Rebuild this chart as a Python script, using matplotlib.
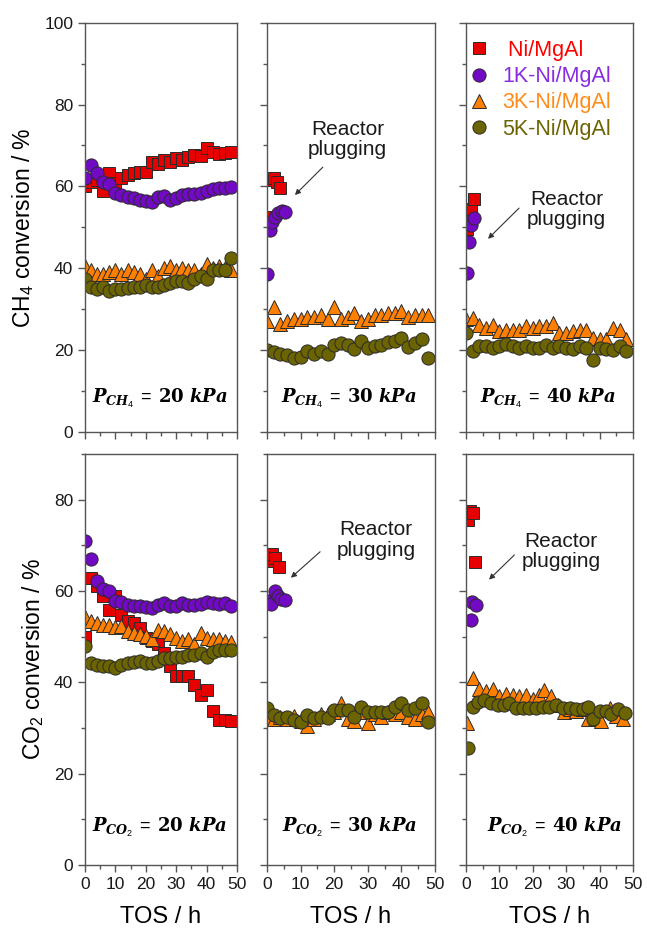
import matplotlib
matplotlib.use('Agg')
import matplotlib.pyplot as plt
from matplotlib.ticker import MultipleLocator

plt.rcParams['font.family'] = ['Liberation Sans', 'DejaVu Sans']
plt.rcParams['mathtext.fontset'] = 'custom'
plt.rcParams['mathtext.rm'] = 'Liberation Sans'
plt.rcParams['mathtext.it'] = 'DejaVu Serif:italic:bold'
plt.rcParams['mathtext.bf'] = 'DejaVu Serif:bold'

# time on stream (h), common sampling of the long runs
tos = [0, 2, 4, 6, 8, 10, 12, 14, 16, 18, 20, 22, 24,
       26, 28, 30, 32, 34, 36, 38, 40, 42, 44, 46, 48]

catalysts = [' Ni/MgAl', '1K-Ni/MgAl', '3K-Ni/MgAl', '5K-Ni/MgAl']
colors = ['#e60000', '#7209c4', '#ff8000', '#6b6400']
label_colors = ['#ff0000', '#8a2be2', '#ff8c1a', '#6b6400']
markers = ['s', 'o', '^', 'o']

# ---- CH4 conversion (%) ----
# P_CH4 = 20 kPa
ch4_20_ni = [60, 61, 61.5, 59, 63.2, 60.8, 62, 62.8, 63.2, 63.6, 63.6, 66, 65.5,
             66.5, 66, 67, 66.5, 67.3, 67.7, 67.4, 69.3, 68.5, 68, 68.1, 68.3]
ch4_20_k1 = [62, 65.2, 63.2, 61, 60.6, 58.5, 57.9, 57.5, 57.1, 56.7, 56.5, 56.3, 57.3,
             57.7, 56.8, 57.2, 58, 58.1, 58.2, 58.5, 58.9, 59.3, 59.5, 59.7, 59.8]
ch4_20_k3 = [40.5, 39.5, 38.5, 38.5, 39, 39.5, 38.5, 39.5, 39, 38.5, 37.5, 39.5, 38,
             40, 40.5, 39.5, 40, 39.5, 39.5, 38.5, 41, 40, 40.5, 40, 39.5]
ch4_20_k5 = [37.5, 35.5, 35, 35.5, 34.5, 35, 35, 35.2, 35.5, 35.5, 36, 35.5, 35.5,
             36, 36.5, 37, 37, 36.5, 37.5, 38, 37.5, 39.5, 39.5, 39.5, 42.5]

# P_CH4 = 30 kPa
ch4_30_ni_t = [0, 1, 2, 3, 4]
ch4_30_ni = [52.5, 61.5, 62, 61, 59.5]
ch4_30_k1_t = [0, 0.8, 1.5, 2.3, 3.3, 4.5, 5.5]
ch4_30_k1 = [38.6, 49.3, 51.3, 52.5, 53.5, 54, 53.7]
ch4_30_k3 = [27, 30.5, 26.5, 27, 27.5, 27.5, 28, 28, 28.5, 27.5, 30.5, 27.5, 28,
             29, 27, 27.5, 28.5, 28.5, 29, 29, 29.5, 28, 28.5, 28.5, 28.5]
ch4_30_k5 = [20, 19.5, 19, 18.7, 18, 18.2, 19.7, 19, 19.7, 19, 21.3, 21.8, 21.3,
             20.2, 22.3, 20.5, 21, 21.3, 22, 22.2, 23, 20.8, 21.7, 22.7, 18]

# P_CH4 = 40 kPa
ch4_40_ni_t = [0.3, 1, 1.6, 2.4]
ch4_40_ni = [49.5, 52.5, 54.5, 57]
ch4_40_k1_t = [0.2, 0.8, 1.6, 2.4]
ch4_40_k1 = [38.8, 46.5, 50.5, 52.3]
ch4_40_k3 = [27.5, 27.8, 26.2, 25.4, 26.2, 24.6, 25, 25, 25, 25.8, 25.4, 25.8, 26,
             26.6, 24.2, 24.2, 24.6, 25, 25, 23, 22.6, 22.6, 25.4, 25, 22.6]
ch4_40_k5 = [24.2, 19.7, 20.9, 20.9, 20.5, 20.9, 21.5, 20.9, 20.5, 20.9, 20.5, 20.5, 21.3,
             20.5, 20.9, 20.5, 20.3, 20.9, 20.5, 17.7, 20.5, 20.3, 20.1, 20.9, 19.7]

# ---- CO2 conversion (%) ----
# P_CO2 = 20 kPa
co2_20_ni = [50, 62.8, 61, 58.8, 55.9, 59, 54.8, 53.5, 53, 51.9, 49.7, 49, 48.3,
             46.5, 43.5, 41.3, 41.3, 41.3, 39.5, 37.3, 38.4, 33.7, 31.8, 31.8, 31.5]
co2_20_k1 = [71, 67, 62.3, 60.5, 60, 57.8, 57.5, 57, 56.8, 56.8, 56.5, 56.3, 57,
             57.3, 56.7, 56.7, 57.3, 57, 57, 57.2, 57.5, 57.3, 57.2, 57.3, 56.8]
co2_20_k3 = [54.4, 53.5, 53, 52.6, 52.5, 52.2, 52.3, 51.2, 50.8, 50.5, 50.1, 49.5, 51.5,
             51.2, 50.5, 49.7, 49, 49.4, 48.5, 50.8, 49.7, 49.4, 49.4, 49, 48.8]
co2_20_k5 = [47.9, 44.2, 43.9, 43.5, 43.5, 43.2, 43.9, 44.2, 44.4, 44.6, 44.2, 44.2, 44.6,
             45.3, 45.3, 45.6, 45.6, 46, 46, 46.4, 45.5, 46.7, 47, 47, 47]

# P_CO2 = 30 kPa
co2_30_ni_t = [0.5, 1.5, 2.5, 3.5]
co2_30_ni = [66.5, 68, 67.2, 65.3]
co2_30_k1_t = [0.3, 1.2, 2.5, 3.3, 4.3, 5.3]
co2_30_k1 = [57.8, 57.2, 60, 59, 58.2, 58]
co2_30_k3 = [32.5, 32, 32.5, 32, 32.6, 31.5, 30.5, 32, 33, 33, 33.5, 35.5, 32,
             31.5, 33.5, 31, 33, 32.5, 33.5, 33, 33.5, 32.5, 32, 33, 33.6]
co2_30_k5 = [34.3, 32.9, 32.1, 32.5, 31.7, 31.4, 32.9, 32.1, 32.5, 32.1, 33.9, 33.9, 33.9,
             32.5, 34.7, 33.6, 33.6, 33.6, 33.6, 34.7, 35.4, 33.9, 34.3, 35.4, 31.4]

# P_CO2 = 40 kPa
co2_40_ni_t = [0.5, 1.2, 2.2, 2.8]
co2_40_ni = [75.5, 77.5, 77, 66.3]
co2_40_k1_t = [1.4, 1.9, 2.9]
co2_40_k1 = [53.7, 57.7, 57]
co2_40_k3_t = [0.3, 2, 4, 6, 8, 10, 12, 14, 16, 18, 20, 22, 23.5,
               25.5, 27.5, 29.5, 31, 33, 35, 36.5, 38.5, 40.5, 43, 45, 47]
co2_40_k3 = [31, 40.9, 38.5, 38, 38.5, 37, 37.5, 37.3, 37, 37.2, 36.3, 37.3, 38.3,
             37, 35.1, 33.5, 34.1, 33.7, 34.1, 31.9, 31.9, 31.5, 34.4, 32.6, 31.9]
co2_40_k5_t = [0.5, 2, 3.5, 5.5, 7.5, 9.5, 11.5, 13, 15, 17, 19, 21, 23,
               25, 27, 29, 31, 33, 35, 36.5, 38, 40, 42, 43.5, 45.5, 47.5]
co2_40_k5 = [25.6, 34.7, 35.8, 36.2, 35.4, 35.1, 35.1, 35.4, 34.4, 34.4, 34.4, 34.4, 34.7,
             34.7, 35.1, 34.4, 34.4, 34.1, 34.1, 34.7, 31.9, 33.7, 33.7, 33, 34.1, 33.3]

panels = [
    [[(tos, ch4_20_ni), (tos, ch4_20_k1), (tos, ch4_20_k3), (tos, ch4_20_k5)],
     [(ch4_30_ni_t, ch4_30_ni), (ch4_30_k1_t, ch4_30_k1), (tos, ch4_30_k3), (tos, ch4_30_k5)],
     [(ch4_40_ni_t, ch4_40_ni), (ch4_40_k1_t, ch4_40_k1), (tos, ch4_40_k3), (tos, ch4_40_k5)]],
    [[(tos, co2_20_ni), (tos, co2_20_k1), (tos, co2_20_k3), (tos, co2_20_k5)],
     [(co2_30_ni_t, co2_30_ni), (co2_30_k1_t, co2_30_k1), (tos, co2_30_k3), (tos, co2_30_k5)],
     [(co2_40_ni_t, co2_40_ni), (co2_40_k1_t, co2_40_k1), (co2_40_k3_t, co2_40_k3),
      (co2_40_k5_t, co2_40_k5)]],
]

pressures = ['20', '30', '40']
frame = '#555555'

fig = plt.figure(figsize=(6.47, 9.30), dpi=100)
lefts = [0.1314, 0.4127, 0.7202]
widths = [0.2349, 0.2597, 0.2581]
bottoms = [0.5355, 0.0699]
heights = [0.4401, 0.4419]

for row in range(2):
    for col in range(3):
        ax = fig.add_axes([lefts[col], bottoms[row], widths[col], heights[row]])
        for i, (t, v) in enumerate(panels[row][col]):
            ax.plot(t, v, ls='none', marker=markers[i], ms=9.5 if markers[i] != 's' else 8.5,
                    mfc=colors[i], mec='#2b2b2b', mew=0.7, label=catalysts[i])
        ax.set_xlim(0, 50)
        ax.xaxis.set_major_locator(MultipleLocator(10))
        ax.xaxis.set_minor_locator(MultipleLocator(5))
        if row == 0:
            ax.set_ylim(0, 100)
        else:
            ax.set_ylim(0, 90)
        ax.yaxis.set_major_locator(MultipleLocator(20))
        ax.yaxis.set_minor_locator(MultipleLocator(10))
        for s in ax.spines.values():
            s.set_color(frame)
            s.set_linewidth(1.0)
        ax.tick_params(which='both', direction='out', colors=frame, labelcolor='#1a1a1a',
                       labelsize=12.5, top=False, right=False)
        ax.tick_params(which='major', length=5, width=1.0)
        ax.tick_params(which='minor', length=3, width=1.0)
        if row == 0:
            ax.tick_params(labelbottom=False)
        else:
            ax.set_xlabel('TOS / h', fontsize=17, labelpad=10)
        if col > 0:
            ax.tick_params(labelleft=False)

        gas = 'CH_{\\mathit{4}}' if row == 0 else 'CO_{\\mathit{2}}'
        px = 24.5 if not (row == 1 and col == 2) else 26.5
        ax.text(px, 8.2, r'$P_{%s}\,=\,\mathbf{%s}\ kPa$' % (gas, pressures[col]),
                ha='center', va='center', fontsize=13)

        if col == 0:
            if row == 0:
                ax.set_ylabel('CH$_4$ conversion / %', fontsize=16.5, labelpad=6)
            else:
                ax.set_ylabel('CO$_2$ conversion / %', fontsize=16.5, labelpad=6)

        if row == 0 and col == 2:
            ax.legend(loc='upper left', bbox_to_anchor=(-0.075, 0.99), frameon=False,
                      fontsize=15.5, handletextpad=0.45, labelspacing=0.25,
                      handlelength=1.2, borderaxespad=0.2, labelcolor=label_colors)

        # plugging note on the higher partial pressures
        if col > 0:
            if row == 0 and col == 1:
                txt, tip, tail = (24, 71.5), (8.3, 57.9), (16.6, 64.7)
            elif row == 0 and col == 2:
                txt, tip, tail = (30.1, 54.4), (6.6, 47.2), (15.9, 54.7)
            elif row == 1 and col == 1:
                txt, tip, tail = (32.4, 71.2), (7.1, 62.9), (15.8, 68.6)
            else:
                txt, tip, tail = (28.5, 68.7), (6.9, 62.5), (14.5, 67.9)
            ax.text(txt[0], txt[1], 'Reactor\nplugging', ha='center', va='center',
                    fontsize=15, color='#1a1a1a', linespacing=1.1)
            ax.annotate('', xy=tip, xytext=tail,
                        arrowprops=dict(arrowstyle='-|>', color='#333333', lw=0.8,
                                        mutation_scale=8, shrinkA=0, shrinkB=0))

fig.savefig('out.png', dpi=100)
